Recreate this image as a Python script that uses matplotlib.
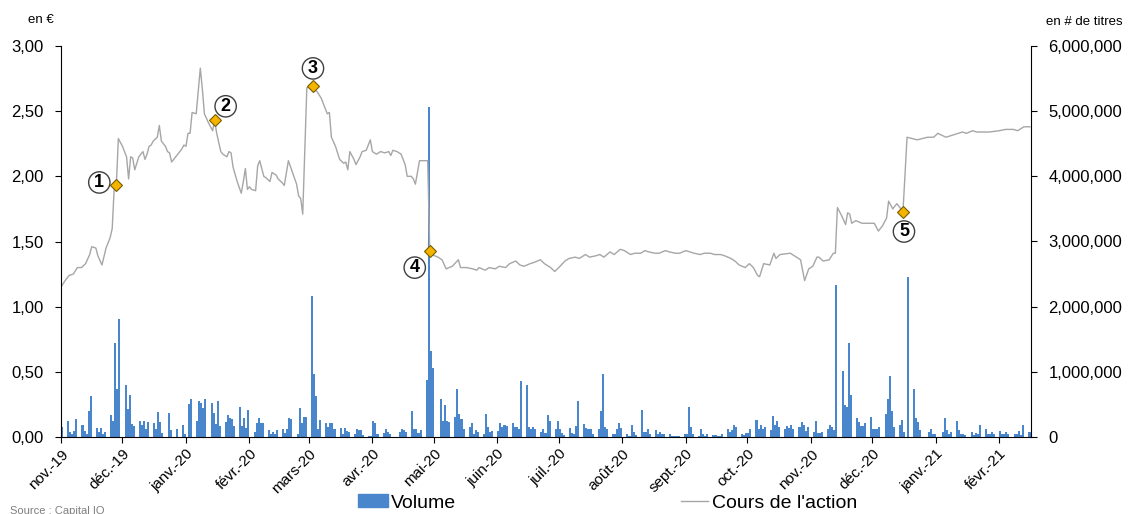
import matplotlib.pyplot as plt
import matplotlib.ticker as mticker
from matplotlib.lines import Line2D
from matplotlib.patches import Patch
import pandas as pd

plt.rcParams['font.family'] = ['Liberation Sans', 'DejaVu Sans']

month_labels = ['nov.-19', 'déc.-19', 'janv.-20', 'févr.-20', 'mars-20', 'avr.-20',
                'mai-20', 'juin-20', 'juil.-20', 'août-20', 'sept.-20', 'oct.-20',
                'nov.-20', 'déc.-20', 'janv.-21', 'févr.-21']

# share price (EUR)
price_dates = [
    '2019-11-01', '2019-11-03', '2019-11-05', '2019-11-07', '2019-11-09', '2019-11-11',
    '2019-11-13', '2019-11-15', '2019-11-16', '2019-11-18', '2019-11-19', '2019-11-21',
    '2019-11-23', '2019-11-25', '2019-11-26', '2019-11-27', '2019-11-28', '2019-11-29',
    '2019-12-01', '2019-12-03', '2019-12-04', '2019-12-05', '2019-12-06', '2019-12-07',
    '2019-12-08', '2019-12-09', '2019-12-11', '2019-12-12', '2019-12-13', '2019-12-14',
    '2019-12-15', '2019-12-16', '2019-12-18', '2019-12-19', '2019-12-20', '2019-12-22',
    '2019-12-23', '2019-12-24', '2019-12-25', '2019-12-26', '2019-12-28', '2019-12-30',
    '2019-12-31', '2020-01-01', '2020-01-02', '2020-01-03', '2020-01-04', '2020-01-06',
    '2020-01-08', '2020-01-09', '2020-01-10', '2020-01-12', '2020-01-14', '2020-01-15',
    '2020-01-16', '2020-01-18', '2020-01-19', '2020-01-21', '2020-01-22', '2020-01-23',
    '2020-01-24', '2020-01-26', '2020-01-28', '2020-01-29', '2020-01-30', '2020-01-31',
    '2020-02-01', '2020-02-02', '2020-02-04', '2020-02-05', '2020-02-06', '2020-02-08',
    '2020-02-09', '2020-02-11', '2020-02-12', '2020-02-14', '2020-02-15', '2020-02-17',
    '2020-02-18', '2020-02-20', '2020-02-22', '2020-02-24', '2020-02-25', '2020-02-26',
    '2020-02-27', '2020-02-29', '2020-03-03', '2020-03-04', '2020-03-05', '2020-03-07',
    '2020-03-08', '2020-03-10', '2020-03-11', '2020-03-12', '2020-03-14', '2020-03-16',
    '2020-03-18', '2020-03-19', '2020-03-20', '2020-03-21', '2020-03-23', '2020-03-24',
    '2020-03-26', '2020-03-27', '2020-03-29', '2020-03-31', '2020-04-01', '2020-04-03',
    '2020-04-05', '2020-04-07', '2020-04-09', '2020-04-10', '2020-04-11', '2020-04-13',
    '2020-04-15', '2020-04-17', '2020-04-18', '2020-04-20', '2020-04-21', '2020-04-22',
    '2020-04-24', '2020-04-28', '2020-04-29', '2020-04-30', '2020-05-03', '2020-05-05',
    '2020-05-07', '2020-05-10', '2020-05-13', '2020-05-14', '2020-05-17', '2020-05-20',
    '2020-05-22', '2020-05-23', '2020-05-26', '2020-05-28', '2020-05-31', '2020-06-02',
    '2020-06-05', '2020-06-07', '2020-06-10', '2020-06-12', '2020-06-14', '2020-06-17',
    '2020-06-19', '2020-06-22', '2020-06-24', '2020-06-27', '2020-06-29', '2020-07-01',
    '2020-07-04', '2020-07-06', '2020-07-09', '2020-07-11', '2020-07-14', '2020-07-16',
    '2020-07-19', '2020-07-21', '2020-07-23', '2020-07-26', '2020-07-28', '2020-07-31',
    '2020-08-02', '2020-08-05', '2020-08-07', '2020-08-10', '2020-08-12', '2020-08-14',
    '2020-08-17', '2020-08-19', '2020-08-22', '2020-08-24', '2020-08-27', '2020-08-29',
    '2020-09-01', '2020-09-03', '2020-09-05', '2020-09-08', '2020-09-10', '2020-09-13',
    '2020-09-15', '2020-09-18', '2020-09-20', '2020-09-23', '2020-09-25', '2020-09-27',
    '2020-09-30', '2020-10-02', '2020-10-04', '2020-10-06', '2020-10-07', '2020-10-09',
    '2020-10-12', '2020-10-14', '2020-10-15', '2020-10-17', '2020-10-22', '2020-10-25',
    '2020-10-27', '2020-10-29', '2020-10-31', '2020-11-02', '2020-11-04', '2020-11-05',
    '2020-11-07', '2020-11-10', '2020-11-12', '2020-11-13', '2020-11-14', '2020-11-16',
    '2020-11-18', '2020-11-19', '2020-11-20', '2020-11-21', '2020-11-23', '2020-11-26',
    '2020-11-28', '2020-12-02', '2020-12-04', '2020-12-06', '2020-12-08', '2020-12-09',
    '2020-12-11', '2020-12-13', '2020-12-14', '2020-12-16', '2020-12-18', '2020-12-23',
    '2020-12-28', '2020-12-31', '2021-01-02', '2021-01-06', '2021-01-10', '2021-01-14',
    '2021-01-16', '2021-01-19', '2021-01-21', '2021-01-24', '2021-01-27', '2021-02-01',
    '2021-02-04', '2021-02-08', '2021-02-10', '2021-02-13', '2021-02-16',
]
price_eur = [
    1.15, 1.20, 1.24, 1.25, 1.30, 1.30,
    1.33, 1.40, 1.46, 1.45, 1.39, 1.32,
    1.45, 1.53, 1.60, 1.92, 1.93, 2.29,
    2.23, 2.15, 1.98, 2.15, 2.14, 2.05,
    2.10, 2.15, 2.19, 2.13, 2.17, 2.23,
    2.24, 2.27, 2.30, 2.39, 2.27, 2.23,
    2.19, 2.18, 2.11, 2.13, 2.17, 2.21,
    2.24, 2.23, 2.33, 2.33, 2.49, 2.48,
    2.83, 2.67, 2.48, 2.41, 2.35, 2.43,
    2.33, 2.19, 2.17, 2.15, 2.19, 2.18,
    2.07, 1.96, 1.87, 1.96, 2.06, 1.90,
    1.92, 1.90, 1.89, 2.08, 2.12, 2.00,
    1.99, 1.96, 2.03, 2.01, 1.98, 1.95,
    1.93, 2.12, 2.03, 1.94, 1.85, 1.83,
    1.71, 2.68, 2.69, 2.66, 2.65, 2.60,
    2.56, 2.48, 2.49, 2.30, 2.23, 2.13,
    2.10, 2.11, 2.05, 2.19, 2.13, 2.09,
    2.15, 2.19, 2.20, 2.28, 2.19, 2.17,
    2.19, 2.18, 2.19, 2.16, 2.20, 2.19,
    2.17, 2.09, 2.00, 2.00, 1.98, 1.94,
    2.12, 2.12, 1.43, 1.40, 1.38, 1.36,
    1.29, 1.31, 1.36, 1.30, 1.30, 1.29,
    1.28, 1.30, 1.28, 1.30, 1.29, 1.31,
    1.30, 1.33, 1.35, 1.32, 1.31, 1.33,
    1.34, 1.36, 1.33, 1.30, 1.27, 1.30,
    1.35, 1.37, 1.38, 1.37, 1.40, 1.38,
    1.39, 1.40, 1.38, 1.42, 1.40, 1.44,
    1.43, 1.40, 1.41, 1.41, 1.43, 1.42,
    1.41, 1.41, 1.43, 1.42, 1.41, 1.41,
    1.43, 1.42, 1.41, 1.40, 1.41, 1.41,
    1.40, 1.40, 1.39, 1.37, 1.35, 1.32,
    1.30, 1.33, 1.30, 1.24, 1.23, 1.33,
    1.32, 1.41, 1.37, 1.40, 1.41, 1.38,
    1.36, 1.20, 1.29, 1.31, 1.38, 1.38,
    1.35, 1.36, 1.41, 1.41, 1.76, 1.70,
    1.63, 1.72, 1.71, 1.64, 1.66, 1.64,
    1.64, 1.64, 1.58, 1.62, 1.68, 1.81,
    1.75, 1.79, 1.77, 1.73, 2.30, 2.28,
    2.30, 2.30, 2.33, 2.30, 2.32, 2.34,
    2.33, 2.35, 2.34, 2.34, 2.34, 2.35,
    2.36, 2.36, 2.35, 2.38, 2.38,
]

# daily volume, thousands of shares, one value per business day
vol_nov19 = [160, 250, 70, 40, 90, 270, 190, 90, 40, 400, 630, 140, 80, 140, 40, 80,
             340, 250, 1440, 730, 1810]
vol_dec19 = [800, 430, 650, 200, 170, 250, 190, 250, 120, 230, 220, 130, 390, 230, 60,
             370, 110, 0, 0, 120, 180, 40]
vol_jan20 = [0, 500, 590, 250, 560, 520, 450, 590, 520, 370, 200, 560, 170, 230, 330,
             290, 280, 170, 460, 170, 290, 140, 420]
vol_feb20 = [70, 210, 290, 210, 210, 110, 50, 70, 40, 100, 120, 60, 130, 290, 280, 50,
             440, 220, 300, 300]
vol_mar20 = [2170, 970, 630, 120, 260, 210, 160, 210, 210, 120, 140, 50, 140, 90, 80, 40,
             120, 100, 100, 30, 20, 10]
vol_apr20 = [250, 210, 50, 60, 130, 80, 40, 0, 0, 80, 120, 100, 80, 400, 120, 120, 60,
             100, 880, 5060, 1320, 1060]
vol_may20 = [0, 580, 250, 490, 240, 230, 310, 740, 350, 270, 130, 160, 210, 50, 100, 80,
             50, 350, 160, 70, 90]
vol_jun20 = [90, 210, 160, 180, 170, 210, 160, 160, 130, 860, 800, 160, 130, 160, 120, 70,
             120, 60, 330, 240, 130, 240]
vol_jul20 = [120, 60, 30, 140, 60, 50, 170, 560, 200, 140, 130, 130, 50, 130, 400, 970,
             160, 130, 40, 40, 130, 210, 140]
vol_aug20 = [40, 20, 190, 70, 30, 410, 80, 70, 120, 40, 110, 40, 70, 40, 50, 50, 20, 10,
             10, 20, 50]
vol_sep20 = [40, 460, 160, 40, 20, 120, 40, 10, 40, 30, 30, 10, 10, 40, 120, 70, 100, 190,
             160, 40, 30, 60]
vol_oct20 = [60, 120, 260, 120, 190, 130, 160, 110, 320, 190, 250, 150, 120, 170, 140, 190,
             130, 160, 230, 190, 90, 160]
vol_nov20 = [70, 240, 60, 60, 70, 120, 190, 160, 100, 2330, 1020, 490, 460, 1440, 640, 290,
             230, 170, 170, 210, 310]
vol_dec20 = [130, 130, 130, 150, 360, 590, 940, 400, 150, 190, 260, 70, 0, 2450, 740, 290,
             230, 110, 0, 70, 130, 50, 40]
vol_jan21 = [0, 80, 290, 110, 40, 70, 240, 110, 40, 40, 30, 70, 30, 60, 40, 190, 120, 40,
             40, 70, 40]
vol_feb21 = [90, 50, 40, 70, 40, 40, 40, 90, 30, 180, 80, 80]

event_dates = ['2019-11-28', '2020-01-15', '2020-03-03', '2020-04-29', '2020-12-16']
event_labels = ['1', '2', '3', '4', '5']
label_offsets = [(-17, 3), (11, 14), (0, 18), (-15, -17), (1, -20)]  # pixels

volume_k = (vol_nov19 + vol_dec19 + vol_jan20 + vol_feb20 + vol_mar20 + vol_apr20
            + vol_may20 + vol_jun20 + vol_jul20 + vol_aug20 + vol_sep20 + vol_oct20
            + vol_nov20 + vol_dec20 + vol_jan21 + vol_feb21)
volume = [v * 1000 for v in volume_k]
days = pd.bdate_range('2019-11-01', '2021-02-16')
price = pd.Series(price_eur, index=pd.to_datetime(price_dates))

BLUE = '#4a86cb'
GREY = '#a6a6a6'

fig = plt.figure(figsize=(11.33, 5.14), dpi=100)
ax = fig.add_axes([61 / 1133, 1 - 437 / 514, (1031 - 61) / 1133, (437 - 46) / 514])
ax2 = ax.twinx()

ax2.bar(days, volume, width=1.0, align='edge', color=BLUE, linewidth=0)
ax.plot(price.index, price.values, color=GREY, lw=1)

ev = pd.to_datetime(event_dates)
ax.plot(ev, price.loc[ev].values, 'D', ms=6, mfc='#f5b400', mec='#7a5c00', mew=0.8,
        zorder=5)
for d, lab, off in zip(ev, event_labels, label_offsets):
    ax.annotate(lab, xy=(d, price.loc[d]), xytext=off, textcoords='offset pixels',
                ha='center', va='center', fontsize=13, fontweight='bold', zorder=6,
                bbox=dict(boxstyle='circle,pad=0.12', fc='white', ec='#404040', lw=1))

ax.set_zorder(ax2.get_zorder() + 1)
ax.patch.set_visible(False)

ax.set_xlim(pd.Timestamp('2019-11-01'), pd.Timestamp('2021-02-16 12:00'))
ax.set_ylim(0, 3)
ax2.set_ylim(0, 6000000)
ax.set_yticks([0, 0.5, 1, 1.5, 2, 2.5, 3])
ax2.set_yticks(range(0, 6000001, 1000000))
ax.yaxis.set_major_formatter(mticker.FuncFormatter(lambda v, _: f'{v:.2f}'.replace('.', ',')))
ax2.yaxis.set_major_formatter(mticker.FuncFormatter(lambda v, _: f'{v:,.0f}'))

ax.set_xticks(pd.date_range('2019-11-01', '2021-02-01', freq='MS'))
ax.set_xticklabels(month_labels, rotation=45, ha='right', rotation_mode='anchor')

for a in (ax, ax2):
    a.spines['top'].set_visible(False)
ax.spines['right'].set_visible(False)
ax2.spines['left'].set_visible(False)
ax2.spines['bottom'].set_visible(False)
ax.tick_params(axis='y', direction='out', length=4.5, pad=8, labelsize=12)
ax2.tick_params(axis='y', direction='out', length=4.5, pad=8, labelsize=12)
ax.tick_params(axis='x', direction='out', length=4, pad=3, labelsize=11)

fig.text(41 / 1133, 1 - 20 / 514, 'en €', ha='center', va='center', fontsize=9.5)
fig.text(1046 / 1133, 1 - 22 / 514, 'en # de titres', ha='left', va='center', fontsize=9.5)
fig.text(10 / 1133, 1 - 511 / 514, 'Source : Capital IQ', ha='left', va='center',
         fontsize=8, color='#7f7f7f')

fig.legend([Patch(color=BLUE)], ['Volume'], loc='center left',
           bbox_to_anchor=(358 / 1133, 1 - 503 / 514), frameon=False, fontsize=14,
           handlelength=1.55, handleheight=0.65, handletextpad=0.15,
           borderpad=0, borderaxespad=0)
fig.legend([Line2D([], [], color=GREY, lw=1)], ["Cours de l'action"], loc='center left',
           bbox_to_anchor=(681 / 1133, 1 - 503 / 514), frameon=False, fontsize=14,
           handlelength=1.4, handletextpad=0.2, borderpad=0, borderaxespad=0)

fig.savefig('out.png', dpi=100)
